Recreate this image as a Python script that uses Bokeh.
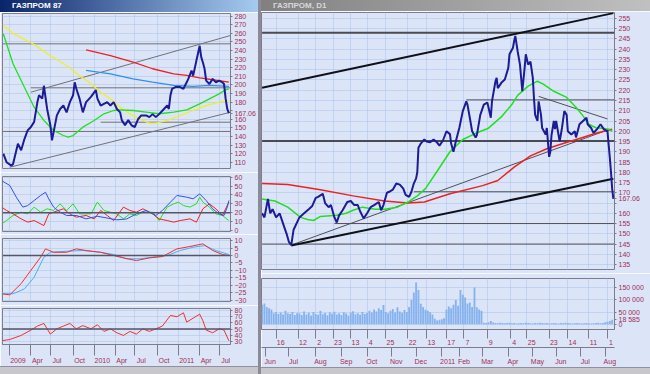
from bokeh.plotting import figure
from bokeh.models import Range1d, FixedTicker, LinearAxis, Div, Span
from bokeh.layouts import column, row
from bokeh.embed import file_html
from bokeh.resources import INLINE

# ---------------- weekly chart (left window), x = week number from Jan 2009 ----------------
l_w = [-4, -2, 1, 2, 5, 7, 9, 11, 13, 15, 17, 18, 20, 21, 23, 25, 26, 27, 29, 31,
       33, 35, 37, 39, 40, 41, 43, 45, 47, 50, 53, 54, 56, 58, 60, 62, 64, 66, 68, 69,
       71, 73, 75, 77, 79, 81, 84, 86, 88, 90, 92, 95, 97, 98, 99, 100, 102, 105, 107, 109,
       110, 112, 113, 115, 117, 118, 119, 120, 121, 123, 125, 127, 129, 131, 132, 133, 134, 135]
l_close = [120, 110, 106, 108, 131.5, 124, 137, 147, 151, 157, 180, 188, 184, 199, 172, 153, 135.5, 145, 164.5, 172,
           176, 168, 180, 188, 203, 195.5, 184, 168, 180, 186, 194, 184, 176, 178, 180, 176, 180, 172, 168, 159,
           153, 159, 153, 151, 160, 164.5, 164.5, 162.5, 166, 162.5, 166, 172, 176, 172, 188, 195.5, 197.5, 197.5, 195.5, 203,
           207, 216.7, 210.8, 228.3, 245.5, 232, 226, 218.8, 205, 201, 207, 203, 205, 203, 201, 184, 172, 167.06]
l_yel_w = [-4, 2, 15, 25, 35, 43, 50, 56, 62, 68, 74, 80, 86, 90, 97, 105, 113, 121, 129, 135]
l_yel = [269, 260, 247, 234, 222.6, 211, 201.3, 191.5, 183.8, 174, 166.4, 160.5, 155.5, 155.5, 158.6, 164.4, 170.2, 176, 179.9, 181.9]
l_grn_w = [-4, 2, 9, 15, 21, 27, 33, 36, 39, 45, 52, 58, 64, 68, 76, 84, 92, 101, 109, 117, 123, 129, 133, 135]
l_grn = [259.5, 224.6, 197.3, 174, 158.6, 146.9, 141.1, 139.1, 141, 150.8, 158.6, 166.4, 170.2, 171, 170.2, 168.3, 166.4, 168.3, 171, 178, 183.8, 189.6, 194.3, 195.5]
l_red_w = [47, 62, 76, 88, 101, 109, 117, 125, 135]
l_red = [240.9, 234.2, 226.5, 218.8, 212.9, 211, 208.3, 206, 203.3]
l_blu_w = [47, 62, 76, 88, 101, 113, 123, 135]
l_blu = [216.8, 212.9, 207.1, 203.3, 199.4, 198.2, 199.4, 198.2]
l_lines_x0 = [13, 13, -5, 56, -5, 0]
l_lines_y0 = [191.5, 196.6, 247.8, 156.6, 145.8, 104.2]
l_lines_x1 = [136, 136, 136, 136, 136, 136]
l_lines_y1 = [257.5, 196.6, 247.8, 156.6, 145.8, 168.2]

adx_w = [-5, 0, 4, 8, 11, 15, 19, 22, 24, 27, 31, 35, 41, 47, 54, 60, 66, 72, 78, 84,
         90, 94, 99, 103, 109, 113, 117, 121, 125, 129, 132, 134, 135]
adx = [56, 50.6, 37.5, 26.3, 28, 33.7, 39.4, 43, 35.6, 26.3, 20.6, 16.9, 16.9, 13.1, 16, 14, 12, 13, 18.7, 22.5,
       16.9, 22.5, 31.9, 39.4, 37.5, 35.6, 41.2, 33.7, 24.4, 18.7, 16.9, 26.3, 33.7]
mdi_w = [-5, -2, 2, 7, 11, 15, 21, 24, 27, 33, 37, 41, 47, 52, 56, 60, 64, 70, 74, 78,
         82, 88, 92, 97, 101, 105, 111, 115, 119, 123, 127, 131, 135]
mdi = [26.3, 22.5, 18.7, 13.1, 9.4, 11.2, 5.6, 18.7, 20.6, 24.4, 18.7, 15, 16.9, 13.1, 22.5, 16.9, 11.2, 26.3, 22.5, 20.6,
       24.4, 18.7, 13.1, 11.2, 9.4, 11.2, 13.1, 9.4, 24.4, 30, 24.4, 16.9, 31.9]
pdi_w = [-5, -2, 2, 7, 11, 15, 19, 23, 27, 31, 35, 39, 43, 50, 54, 58, 62, 66, 70, 74,
         78, 82, 88, 92, 97, 101, 104, 107, 111, 115, 117, 119, 123, 127, 131, 135]
pdi = [7.5, 11.2, 16.9, 20.6, 18.7, 26.3, 20.6, 24.4, 22.5, 30, 22.5, 30, 18.7, 18.7, 31.9, 22.5, 20.6, 18.7, 13.1, 18.7,
       16.9, 20.6, 20.6, 11.2, 26.3, 30, 31.9, 28, 26.3, 30, 37.5, 31.9, 26.3, 18.7, 16.9, 11.2]
macd_w = [-5, 0, 7, 13, 19, 22, 27, 35, 41, 47, 56, 64, 70, 78, 86, 94, 103, 111, 119, 125, 131, 135]
macd = [-25.8, -26.5, -18.9, -10, -1.1, 4.5, 2.2, 2.2, 4.5, 3.4, 2.2, 0, -1.6, -3.4, -1.6, -0.7, 4.5, 6.1, 7.9, 3.4, 0.7, 0]
sig_w = [-5, 2, 9, 15, 21, 25, 35, 45, 56, 64, 72, 80, 88, 97, 105, 113, 120, 127, 135]
sig = [-25.8, -25.8, -22.5, -14.6, -1.1, 2.2, 2.9, 3.4, 2.2, 0.7, -2.2, -2.2, -1.1, 0, 3.4, 5.6, 6.7, 3.4, 0.7]
rsi_w = [-5, 0, 7, 13, 17, 21, 25, 29, 33, 37, 41, 45, 50, 54, 58, 62, 66, 70, 74, 78,
         82, 86, 90, 94, 99, 103, 107, 109, 113, 117, 119, 121, 125, 129, 132, 135]
rsi = [30.9, 33, 39.6, 48.3, 54.8, 59.1, 41.7, 50.4, 54.8, 59.1, 50.4, 55.6, 50.4, 57, 46.1, 50.4, 43.9, 39.6, 46.1, 41.7,
       50.4, 46.1, 50.4, 54.8, 72.2, 70, 76.5, 61.3, 67.8, 74.3, 63.5, 48.3, 43.9, 50.4, 48.3, 30.9]
l_q_sep = [0, 13, 25, 39, 52, 65, 77, 91, 104, 117, 129]
l_q_lab = ["2009", "Apr", "Jul", "Oct", "2010", "Apr", "Jul", "Oct", "2011", "Apr", "Jul"]

# ---------------- daily chart (right window), x = trading day from end of May 2010 ----------------
r_idx = [0, 2, 5, 7, 9, 12, 15, 18, 21, 23, 25, 27, 32, 36, 40, 43, 46, 48, 52, 54,
         57, 59, 62, 64, 66, 69, 73, 76, 79, 82, 84, 87, 90, 93, 96, 100, 102, 104, 107, 109,
         112, 115, 118, 121, 123, 126, 128, 130, 132, 133, 134, 136, 139, 141, 144, 147, 150, 152, 155, 158,
         161, 162, 164, 166, 169, 172, 175, 176, 178, 180, 183, 184, 187, 190, 193, 194, 196, 197, 200, 201,
         202, 205, 208, 211, 212, 215, 216, 217, 219, 221, 222, 223, 225, 226, 228, 230, 232, 233, 234, 236,
         237, 239, 240, 243, 244, 246, 247, 248, 250, 251, 252, 255, 257, 259, 261, 262, 265, 268, 269, 272,
         275, 278, 279, 282, 284, 287, 290, 293, 296, 297, 298, 299, 300, 301]
r_close = [160, 158, 167, 160, 162, 158, 160, 155, 150, 146, 144.5, 152, 158, 160, 162, 163.6, 167.5, 168, 169.5, 165,
           163, 164, 158, 155.5, 159, 161.5, 165.5, 166, 164, 164, 161, 157.5, 160, 163, 164, 165.5, 161.5, 164, 170, 170.5,
           171.5, 174.5, 174, 172, 169, 168, 170.5, 174.5, 177, 180, 192, 194, 196, 195, 194.6, 196, 194.5, 193, 195.5, 200,
           198.6, 194, 190, 195, 201.6, 209.8, 214.6, 213, 206.6, 200, 197, 198, 208, 213, 214, 211.7, 206.6, 214.6, 224.4, 226,
           221, 223.6, 225.2, 230.9, 237.5, 240.7, 244, 246.5, 239, 232.5, 226, 219.5, 231, 237.5, 232.5, 234, 226, 216, 208, 205,
           214.6, 208, 201.6, 198.4, 201.6, 187.5, 190, 198, 205, 201, 205, 195, 201.6, 209.8, 208, 200, 198.4, 200, 197, 203.4,
           205, 206.6, 203.4, 201.6, 199.2, 201, 203.4, 200.9, 200, 193.4, 187, 180, 172, 167.06]
r_grn_x = [0, 11, 22, 33, 39, 44, 50, 64, 72, 78, 86, 97, 105, 116, 125, 133, 140, 150, 161, 172,
           183, 194, 205, 214, 219, 228, 236, 241, 250, 261, 269, 275, 280, 286, 291, 297, 300]
r_grn = [167, 166, 163, 158, 157, 156.5, 158.5, 159, 160, 161.5, 163, 162, 162, 163, 165.5, 168.5, 172, 180.5, 190, 196,
         199, 201.5, 207, 213, 217.5, 222, 224.4, 223, 219.5, 216.5, 211.7, 207.5, 203.4, 201.7, 201.5, 201, 200]
r_red_x = [0, 22, 50, 78, 105, 125, 139, 161, 189, 202, 216, 230, 244, 258, 272, 286, 300]
r_red = [174.5, 174, 171.5, 168.5, 166, 165, 165.5, 169.5, 173.5, 176, 182.5, 188, 191.5, 194, 196.5, 199, 201]
r_blk_x0 = [0, 0, 0, 25]
r_blk_y0 = [248, 195.2, 221.2, 144.3]
r_blk_x1 = [302, 302, 301, 301]
r_blk_y1 = [248, 195.2, 257.6, 176.8]
r_thin_x0 = [0, 62, 130, 175, 25, 237]
r_thin_y0 = [145, 155, 170.5, 215.3, 144.5, 217]
r_thin_x1 = [302, 302, 302, 302, 298, 296]
r_thin_y1 = [145, 155, 170.5, 215.3, 201, 206]
vol_k = [80, 85, 70, 65, 60,
         45, 50, 42, 48, 40, 55, 45, 42, 50, 38, 45,
         44, 38, 52, 40, 47, 36, 50, 42, 39, 55, 41, 46, 37, 48, 43, 51, 40, 45, 38, 49, 44, 36, 47, 53, 41, 45, 39, 50, 42, 46,
         55, 48, 60, 52, 65, 58, 79, 50, 45, 55, 62, 48, 69, 52, 47, 58, 50,
         70, 99, 130, 170, 140, 84, 70, 59, 55, 49, 40,
         22, 15, 18, 20, 25,
         60, 72, 65, 80, 99, 75, 140, 120, 109, 85, 89, 70, 150, 69, 60, 55,
         6, 5, 8, 13, 7, 5, 4, 6, 5, 4, 5, 6, 4, 5, 3, 4, 5, 4, 6, 5, 4, 3, 5, 4, 6, 5, 4, 5, 3, 4,
         5, 4, 3, 5, 4, 6, 5, 4, 3, 4, 5, 4, 3, 4, 5, 4, 3, 4, 5, 6, 4, 5, 8, 10, 13, 18.6]
vol_x = list(range(0, 2 * len(vol_k), 2))
r_day_sep = [12, 31, 46, 61, 76, 90, 106, 125, 141, 158, 173, 193, 213, 227, 246, 262, 280, 296]
r_day_lab = ["16", "12", "2", "23", "13", "4", "25", "22", "13", "17", "7", "9", "4", "25", "23", "14", "11", "1"]
r_mon_sep = [3, 23, 46, 68, 90, 111, 132, 154, 169, 189, 211, 232, 252, 273, 294]
r_mon_lab = ["Jun", "Jul", "Aug", "Sep", "Oct", "Nov", "Dec", "2011", "Feb", "Mar", "Apr", "May", "Jun", "Jul", "Aug"]
vol_ticks = [0, 50000, 100000, 150000]
vol_tick_lab = ["0", "50 000", "100 000", "150 000"]
last_price = 167.06
last_vol = 18585

# ---------------- styling ----------------
BG = "#dce5f7"
GRID = "#a4c0ea"
FRAME = "#7c7c8c"
TXT = "#9c2f55"
TAG = "#1a2a90"
FONT = "Liberation Sans"
FS = "7px"
NAVY = "#1c1c96"


def make_fig(w, h, xr, yr, yticks, top, bottom, left, right, tags=None, hide=()):
    p = figure(width=w, height=h, x_range=Range1d(*xr), y_range=Range1d(*yr),
               x_axis_location=None, y_axis_location="right",
               output_backend="svg", toolbar_location=None,
               min_border_top=top, min_border_bottom=bottom,
               min_border_left=left, min_border_right=right,
               background_fill_color=BG, border_fill_color=BG,
               outline_line_color=FRAME, outline_line_width=1)
    ax = p.yaxis[0]
    ticks = list(yticks) + [t for t, _ in (tags or [])]
    ax.ticker = FixedTicker(ticks=ticks)
    over = {t: "" for t in hide}
    for t, s in (tags or []):
        over[t] = s
    ax.major_label_overrides = over
    ax.axis_line_color = None
    ax.major_tick_out = 2
    ax.major_tick_in = 0
    ax.major_tick_line_color = FRAME
    ax.minor_tick_line_color = None
    ax.major_label_text_font = FONT
    ax.major_label_text_font_size = FS
    ax.major_label_text_color = TXT
    ax.major_label_standoff = 2
    p.ygrid.ticker = FixedTicker(ticks=list(yticks))
    p.grid.grid_line_color = GRID
    p.grid.grid_line_dash = "1 1"
    return p


def add_date_axis(p, seps, labels, tick_len):
    pos = [s + (5 if len(t) == 4 else (4 if len(t) >= 2 else 3)) for s, t in zip(seps, labels)]
    ax = LinearAxis(ticker=FixedTicker(ticks=pos, minor_ticks=seps),
                    major_label_overrides={q: t for q, t in zip(pos, labels)})
    ax.axis_line_color = FRAME
    ax.major_tick_line_color = None
    ax.major_tick_out = 0
    ax.major_tick_in = 0
    ax.minor_tick_line_color = FRAME
    ax.minor_tick_out = tick_len
    ax.minor_tick_in = 0
    ax.major_label_standoff = 1
    ax.major_label_text_font = FONT
    ax.major_label_text_font_size = FS
    ax.major_label_text_color = TXT
    p.add_layout(ax, "below")


LX = (-4.5, 136)
LW = 258
# left price
lp = make_fig(LW, 160, LX, (102.7, 283.1), list(range(110, 290, 10)), 1, 4, 2, 27,
              tags=[(last_price, "167.06")], hide=[170])
lp.xgrid.ticker = FixedTicker(ticks=l_q_sep)
lp.segment(l_lines_x0, l_lines_y0, l_lines_x1, l_lines_y1, line_color="#707078", line_width=1)
lp.line(l_yel_w, l_yel, line_color="#f0f020", line_width=1.3)
lp.line(l_grn_w, l_grn, line_color="#20e020", line_width=1.3)
lp.line(l_red_w, l_red, line_color="#f02020", line_width=1.3)
lp.line(l_blu_w, l_blu, line_color="#2f8ff0", line_width=1.3)
lp.line(l_w, l_close, line_color=NAVY, line_width=2)

la = make_fig(LW, 62, LX, (-1.1, 60.7), [0, 10, 20, 30, 40, 50, 60], 4, 3, 2, 27)
la.xgrid.ticker = FixedTicker(ticks=l_q_sep)
la.add_layout(Span(location=20, dimension="width", line_color="#55556a", line_width=1.5))
la.line(pdi_w, pdi, line_color="#20e020", line_width=1)
la.line(mdi_w, mdi, line_color="#f02020", line_width=1)
la.line(adx_w, adx, line_color="#3050f0", line_width=1)

lm = make_fig(LW, 71, LX, (-31, 11.5), [-30, -25, -20, -15, -10, -5, 0, 5, 10], 4, 4, 2, 27)
lm.xgrid.ticker = FixedTicker(ticks=l_q_sep)
lm.add_layout(Span(location=0, dimension="width", line_color="#55556a", line_width=1.5))
lm.line(sig_w, sig, line_color="#40b0ff", line_width=1)
lm.line(macd_w, macd, line_color="#f03030", line_width=1)

lr = make_fig(LW, 61, LX, (24.8, 83.5), [30, 40, 50, 60, 70, 80], 3, 13, 2, 27)
lr.xgrid.ticker = FixedTicker(ticks=l_q_sep)
lr.add_layout(Span(location=50, dimension="width", line_color="#55556a", line_width=1.5))
lr.line(rsi_w, rsi, line_color="#f03030", line_width=1)
add_date_axis(lr, l_q_sep, l_q_lab, 11)

RX = (-0.5, 302)
RW = 389
rp = make_fig(RW, 262, RX, (132.6, 257.9), list(range(135, 260, 5)), 1, 4, 0, 26,
              tags=[(last_price, "167.06")], hide=[165])
rp.xgrid.ticker = FixedTicker(ticks=r_day_sep)
rp.segment(r_thin_x0, r_thin_y0, r_thin_x1, r_thin_y1, line_color="#505058", line_width=1)
rp.segment(r_blk_x0[:2], r_blk_y0[:2], r_blk_x1[:2], r_blk_y1[:2], line_color="#4a4a52", line_width=2)
rp.segment(r_blk_x0[2:], r_blk_y0[2:], r_blk_x1[2:], r_blk_y1[2:], line_color="#101018", line_width=2)
rp.line(r_red_x, r_red, line_color="#f02020", line_width=1.5)
rp.line(r_grn_x, r_grn, line_color="#20e020", line_width=1.5)
rp.line(r_idx, r_close, line_color=NAVY, line_width=2)

rv = make_fig(RW + 10, 94, RX, (-21400, 186700), [], 5, 21, 0, 36,
              tags=list(zip(vol_ticks, vol_tick_lab)) + [(last_vol, "18 585")])
rv.ygrid.ticker = FixedTicker(ticks=vol_ticks)
rv.xgrid.ticker = FixedTicker(ticks=r_day_sep)
rv.vbar(x=vol_x, top=[v * 1000 for v in vol_k], width=1.6, fill_color="#86b2ee", line_color=None)
add_date_axis(rv, r_day_sep, r_day_lab, 9)
add_date_axis(rv, r_mon_sep, r_mon_lab, 9)

title_css = {"color": "white", "font-family": "Liberation Sans", "font-size": "8px", "font-weight": "bold",
             "line-height": "12px", "padding-left": "12px", "box-sizing": "border-box",
             "background": "linear-gradient(to right, #0a246a, #a6caf0)", "overflow": "hidden"}
tl = Div(text="ГАЗПРОМ 87", width=LW, height=12, margin=0, styles=title_css)
tr_css = dict(title_css)
tr_css.update({"background": "linear-gradient(to right, #808080, #c0c0c0)", "color": "#d8d8d8", "line-height": "11px"})
tr = Div(text="ГАЗПРОМ, D1", width=RW, height=11, margin=0, styles=tr_css)
sl = Div(width=LW, height=8, margin=0, styles={"background": "#c8c8cc", "border-top": "1px solid #9090a0", "box-sizing": "border-box"})
sr = Div(width=RW, height=7, margin=0, styles={"background": "#c8c8cc", "border-top": "1px solid #9090a0", "box-sizing": "border-box"})
gap = Div(width=3, height=374, margin=0, styles={"background": "#8a8a98"})

right = column(tr, rp, rv, sr, width=RW, styles={"overflow": "hidden"})
layout = row(column(tl, lp, la, lm, lr, sl), gap, right)
open("out.html", "w").write(file_html(layout, INLINE))
